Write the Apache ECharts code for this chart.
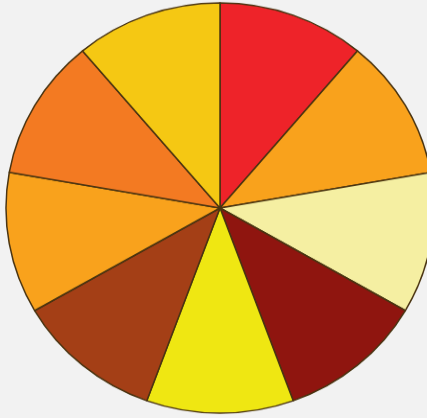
<!DOCTYPE html>
<html>
<head>
<meta charset="utf-8">
<script src="https://cdn.jsdelivr.net/npm/echarts@6/dist/echarts.min.js"></script>
<style>
  html, body { margin: 0; padding: 0; background: #f2f2f2; overflow: hidden; }
  /* the pie is slightly squashed vertically into an ellipse */
  #chart { width: 427px; height: 436px; transform: scale(1, 0.9585); transform-origin: 0 0; }
</style>
</head>
<body>
<div id="chart"></div>
<script>
// Nine equal wedges, listed clockwise from twelve o'clock
const categories = ['A', 'B', 'C', 'D', 'E', 'F', 'G', 'H', 'I'];
const values = [1, 1, 1, 1, 1, 1, 1, 1, 1];
const colors = ['#ee2329', '#f9a21c', '#f5efa2', '#8f150f', '#efe712', '#a43f16', '#f9a21c', '#f37a22', '#f5c813'];

const chart = echarts.init(document.getElementById('chart'), null, { renderer: 'canvas' });
chart.setOption({
  backgroundColor: '#f2f2f2',
  animation: false,
  series: [{
    type: 'pie',
    center: [220, 217],
    radius: [0, 214],
    startAngle: 90,
    clockwise: true,
    label: { show: false },
    labelLine: { show: false },
    emphasis: { disabled: true },
    itemStyle: { borderColor: '#4a3411', borderWidth: 1.5 },
    data: categories.map((name, i) => ({
      name: name,
      value: values[i],
      itemStyle: { color: colors[i] }
    }))
  }]
});
</script>
</body>
</html>
